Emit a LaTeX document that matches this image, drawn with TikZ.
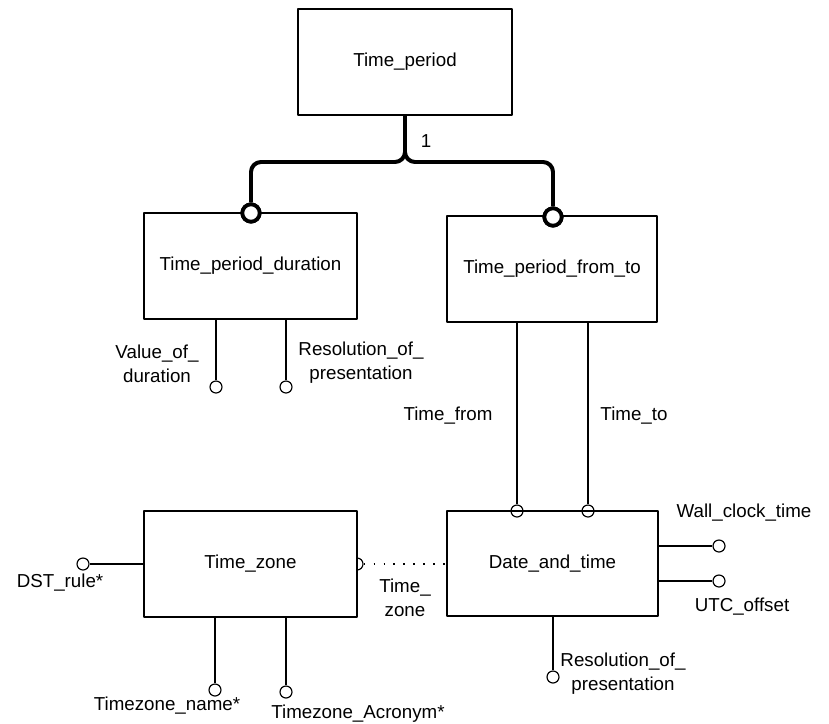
\documentclass[tikz,border=0pt]{standalone}
\usepackage{fontspec}
\setmainfont{Liberation Sans}
\usetikzlibrary{positioning}

\tikzset{
  entity/.style={draw, line width=1pt, fill=white, inner sep=0pt,
    font=\fontsize{16}{20.4}\selectfont},
  attr/.style={circle, draw, line width=1pt, inner sep=0pt, minimum size=0.36cm},
  rel/.style={line width=3.4pt, rounded corners=0.3cm},
  relend/.style={circle, draw, line width=3.2pt, fill=white, inner sep=0pt, minimum size=0.52cm},
  lbl/.style={align=center, inner sep=0pt, font=\fontsize{16}{20.4}\selectfont}
}

\begin{document}
\begin{tikzpicture}[x=0.03cm, y=-0.03cm, line join=round]
    \useasboundingbox (0,0) rectangle (829,724);
    % circle hidden half under the time zone box
    \node [attr, fill=white] (tzc) at (357,564) {};
    % entities
    \node [entity, minimum width=6.42cm, minimum height=3.18cm] (tp) at (405,62) {Time\_period};
    \node [entity, minimum width=6.39cm, minimum height=3.18cm] (dur) at (250.5,266) {Time\_period\_duration};
    \node [entity, minimum width=6.3cm, minimum height=3.18cm] (ft) at (552,269) {Time\_period\_from\_to};
    \node [entity, minimum width=6.33cm, minimum height=3.15cm] (dt) at (552.5,563.5) {Date\_and\_time};
    \node [entity, minimum width=6.39cm, minimum height=3.18cm] (tz) at (250.5,564) {Time\_zone};

    % relationship from Time_period
    \coordinate (split) at (405,162);
    \node [relend] (durend) at (251,213) {};
    \node [relend] (ftend) at (553,217) {};
    \draw [rel] (tp.south) -- (split) -| (durend.north);
    \draw [rel] (tp.south) -- (split) -| (ftend.north);
    \node [relend] at (durend) {};
    \node [relend] at (ftend) {};
    \node [lbl] (one) at (426,141) {1};

    % attributes of Time_period_duration
    \node [attr] (val) at (216,387) {};
    \node [attr] (res1) at (286,387) {};
    \draw [line width=1pt] (dur.south -| val) -- (val.north);
    \draw [line width=1pt] (dur.south -| res1) -- (res1.north);
    \node [lbl] (vallbl) at (157,364) {Value\_of\_\\duration};
    \node [lbl] (res1lbl) at (361,363) {Resolution\_of\_\\presentation};

    % from / to
    \node [attr] (from) at (517,511) {};
    \node [attr] (to) at (588,511) {};
    \draw [line width=1pt] (ft.south -| from) -- (from.north);
    \draw [line width=1pt] (ft.south -| to) -- (to.north);
    \node [lbl] (fromlbl) at (448,416) {Time\_from};
    \node [lbl] (tolbl) at (634,416) {Time\_to};

    % attributes of Date_and_time
    \node [attr] (wall) at (719,546) {};
    \node [attr] (utc) at (719,581) {};
    \node [attr] (res2) at (553,677) {};
    \draw [line width=1pt] (dt.east |- wall) -- (wall.west);
    \draw [line width=1pt] (dt.east |- utc) -- (utc.west);
    \draw [line width=1pt] (dt.south -| res2) -- (res2.north);
    \node [lbl] (walllbl) at (744,513) {Wall\_clock\_time};
    \node [lbl] (utclbl) at (742,607) {UTC\_offset};
    \node [lbl] (res2lbl) at (623,674) {Resolution\_of\_\\presentation};

    % time zone link
    \draw [line width=1pt, dash pattern=on 1.5pt off 7pt] (tzc.east) -- (dt.west |- tzc);
    \node [lbl] (tzlbl) at (405,598) {Time\_\\zone};

    % attributes of Time_zone
    \node [attr] (dst) at (83,564) {};
    \node [attr] (tzname) at (215,690) {};
    \node [attr] (tzacr) at (286,692) {};
    \draw [line width=1pt] (tz.west |- dst) -- (dst.east);
    \draw [line width=1pt] (tz.south -| tzname) -- (tzname.north);
    \draw [line width=1pt] (tz.south -| tzacr) -- (tzacr.north);
    \node [lbl] (dstlbl) at (60,583) {DST\_rule*};
    \node [lbl] (tznamelbl) at (167,706) {Timezone\_name*};
    \node [lbl] (tzacrlbl) at (358,714) {Timezone\_Acronym*};
\end{tikzpicture}
\end{document}
